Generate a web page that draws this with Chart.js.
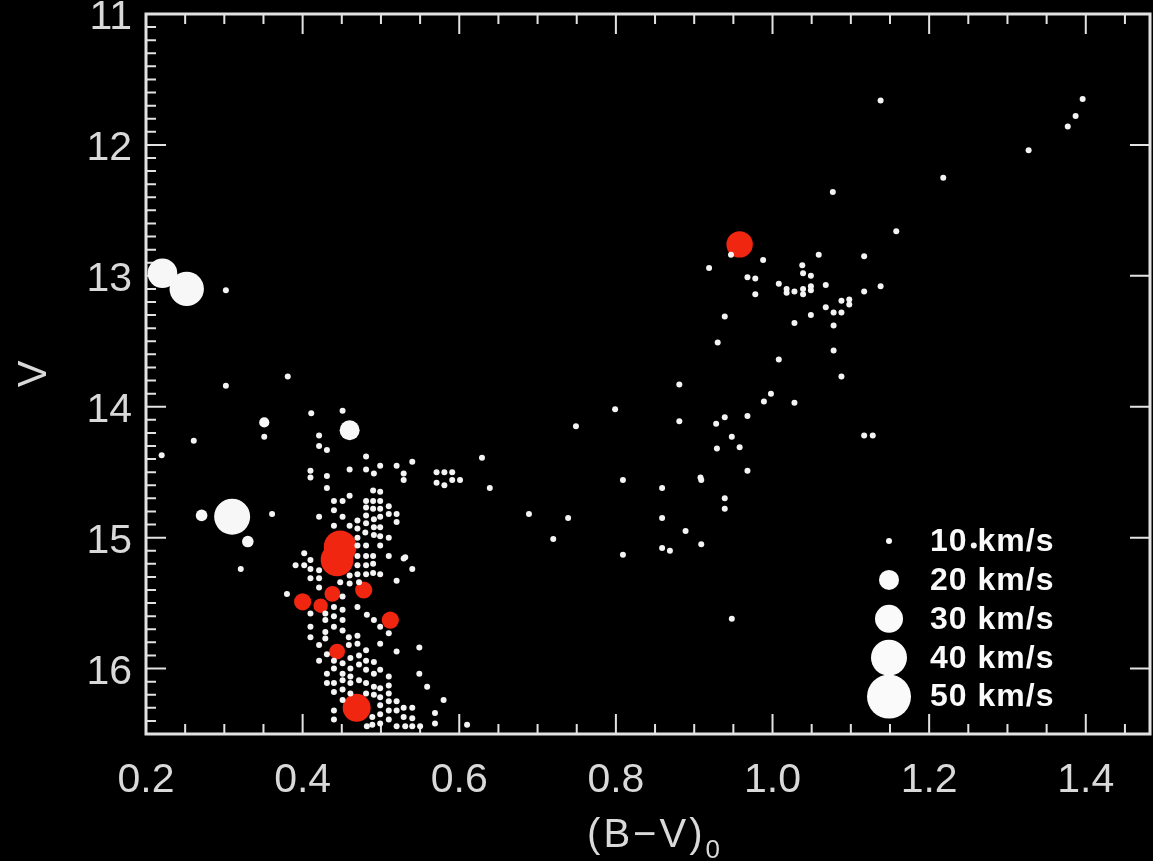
<!DOCTYPE html>
<html>
<head>
<meta charset="utf-8">
<script src="https://cdn.jsdelivr.net/npm/chart.js@4.4.0/dist/chart.umd.min.js"></script>
<style>
  html, body { margin: 0; padding: 0; background: #000; }
  canvas { display: block; }
</style>
</head>
<body>
<canvas id="cmd" width="1153" height="861" style="width:1153px;height:861px"></canvas>
<script>
// axis tick labels
const xTickVals = [0.2, 0.4, 0.6, 0.8, 1.0, 1.2, 1.4]
const yTickVals = [11, 12, 13, 14, 15, 16]
const legendVel = [10, 20, 30, 40, 50]

// slow stars, drawn as dots
// giant branch
const giantBV = [1.138, 1.396, 1.387, 1.377, 1.327, 1.218, 1.077, 1.158, 0.947, 0.988,
  0.919, 1.059, 1.117, 1.038, 1.039, 1.049, 0.968, 0.978, 1.008, 1.018,
  1.018, 1.028, 1.039, 1.039, 1.049, 1.049, 1.068, 1.117, 1.138, 0.978,
  1.088, 1.098, 1.098, 1.068, 1.078, 1.088, 1.049, 0.939, 1.028, 1.078,
  0.930, 1.008, 1.078, 1.088, 0.998, 0.989, 1.028, 0.881, 0.968, 0.939,
  0.928, 0.881, 0.948, 0.958, 0.929, 1.117, 1.128, 0.968, 0.908]
const giantV = [11.66, 11.65, 11.78, 11.86, 12.04, 12.25, 12.36, 12.66, 12.84, 12.88,
  12.94, 12.84, 12.85, 12.92, 12.98, 13.00, 13.01, 13.02, 13.06, 13.10,
  13.13, 13.12, 13.10, 13.14, 13.08, 13.11, 13.07, 13.12, 13.08, 13.14,
  13.19, 13.18, 13.22, 13.24, 13.28, 13.28, 13.30, 13.31, 13.36, 13.38,
  13.51, 13.64, 13.57, 13.77, 13.90, 13.96, 13.97, 13.83, 14.07, 14.08,
  14.13, 14.11, 14.23, 14.31, 14.32, 14.22, 14.22, 14.49, 14.54]
// subgiants / field between turnoff and giants
const gapBV = [0.799, 0.749, 0.629, 0.639, 0.809, 0.859, 0.909, 0.939, 0.939, 0.689,
  0.739, 0.859, 0.720, 0.889, 0.859, 0.869, 0.909, 0.809, 0.948, 1.257]
const gapV = [14.02, 14.15, 14.39, 14.62, 14.56, 14.62, 14.56, 14.70, 14.78, 14.82,
  14.85, 14.85, 15.01, 14.95, 15.08, 15.10, 15.05, 15.13, 15.62, 15.06]
// blue side
const blueBV = [0.302, 0.302, 0.381, 0.411, 0.451, 0.421, 0.351, 0.220, 0.261, 0.361, 0.321]
const blueV = [13.11, 13.84, 13.77, 14.05, 14.03, 14.22, 14.23, 14.37, 14.26, 14.82, 15.24]
// turnoff, upper part
const msUpBV = [0.421, 0.431, 0.481, 0.460, 0.481, 0.499, 0.520, 0.540, 0.491, 0.410,
  0.410, 0.431, 0.529, 0.529, 0.431, 0.460, 0.571, 0.581, 0.591, 0.571,
  0.581, 0.591, 0.601, 0.490, 0.499, 0.440, 0.451, 0.481, 0.481, 0.490,
  0.490, 0.499, 0.499, 0.499, 0.510, 0.510, 0.520, 0.520, 0.440, 0.451,
  0.421, 0.440, 0.460, 0.470, 0.470, 0.470, 0.481, 0.481, 0.491, 0.491,
  0.491, 0.499, 0.499, 0.499, 0.510, 0.480, 0.402, 0.391, 0.402, 0.410,
  0.470, 0.470, 0.470, 0.470, 0.481, 0.481, 0.481, 0.481, 0.490, 0.490,
  0.490, 0.510, 0.531, 0.540, 0.499, 0.410, 0.410, 0.380, 0.421, 0.421,
  0.421, 0.448, 0.460, 0.460, 0.472, 0.529, 0.520, 0.451]
const msUpV = [14.30, 14.33, 14.38, 14.48, 14.48, 14.45, 14.45, 14.42, 14.51, 14.49,
  14.54, 14.53, 14.51, 14.56, 14.62, 14.68, 14.50, 14.50, 14.50, 14.58,
  14.60, 14.56, 14.56, 14.64, 14.65, 14.72, 14.72, 14.72, 14.77, 14.72,
  14.78, 14.72, 14.78, 14.84, 14.76, 14.82, 14.82, 14.88, 14.79, 14.84,
  14.84, 14.91, 14.91, 14.87, 14.93, 15.00, 14.83, 14.89, 14.86, 14.92,
  14.98, 14.92, 14.99, 15.06, 15.00, 14.96, 15.12, 15.21, 15.21, 15.17,
  15.06, 15.14, 15.21, 15.28, 15.06, 15.14, 15.21, 15.28, 15.14, 15.20,
  15.27, 15.14, 15.15, 15.24, 15.28, 15.24, 15.31, 15.43, 15.25, 15.31,
  15.38, 15.34, 15.29, 15.35, 15.34, 15.16, 15.33, 15.45]
// turnoff, lower part
const msLoBV = [0.470, 0.482, 0.491, 0.499, 0.510, 0.410, 0.410, 0.429, 0.429, 0.429,
  0.429, 0.440, 0.440, 0.440, 0.451, 0.451, 0.451, 0.410, 0.421, 0.431,
  0.459, 0.459, 0.470, 0.470, 0.481, 0.499, 0.520, 0.549, 0.421, 0.440,
  0.440, 0.451, 0.451, 0.461, 0.461, 0.461, 0.472, 0.472, 0.481, 0.481,
  0.491, 0.491, 0.499, 0.510, 0.510, 0.549, 0.559, 0.580, 0.431, 0.431,
  0.440, 0.440, 0.451, 0.451, 0.461, 0.461, 0.472, 0.481, 0.481, 0.491,
  0.491, 0.499, 0.499, 0.499, 0.510, 0.510, 0.510, 0.510, 0.520, 0.520,
  0.529, 0.529, 0.540, 0.540, 0.540, 0.550, 0.569, 0.569, 0.531, 0.610,
  0.489, 0.489, 0.499, 0.499, 0.440, 0.440, 0.451, 0.482, 0.520]
const msLoV = [15.53, 15.59, 15.63, 15.68, 15.73, 15.58, 15.68, 15.58, 15.63, 15.72,
  15.77, 15.53, 15.60, 15.68, 15.55, 15.63, 15.71, 15.76, 15.82, 15.89,
  15.76, 15.82, 15.75, 15.81, 15.86, 15.81, 15.87, 15.84, 15.94, 15.94,
  16.00, 15.96, 16.04, 15.92, 16.00, 16.06, 15.90, 15.97, 15.94, 16.01,
  15.95, 16.04, 16.01, 16.06, 16.13, 16.04, 16.14, 16.24, 16.04, 16.11,
  16.11, 16.18, 16.09, 16.16, 16.11, 16.19, 16.09, 16.11, 16.19, 16.14,
  16.20, 16.15, 16.22, 16.28, 16.19, 16.25, 16.32, 16.39, 16.25, 16.32,
  16.30, 16.37, 16.30, 16.38, 16.44, 16.44, 16.34, 16.42, 16.44, 16.43,
  16.37, 16.43, 16.35, 16.42, 16.32, 16.39, 16.24, 16.44, 16.44]

// faster white stars, with velocity in km/s
const fastBV = [0.221, 0.252, 0.310, 0.460, 0.351, 0.271, 0.330]
const fastV = [12.98, 13.10, 14.84, 14.18, 14.12, 14.83, 15.03]
const fastVel = [32, 38, 40, 20, 13, 14, 14]

// red stars, with velocity in km/s
const redBV = [0.958, 0.448, 0.444, 0.400, 0.423, 0.438, 0.478, 0.512, 0.444, 0.469]
const redV = [12.76, 15.07, 15.17, 15.49, 15.52, 15.43, 15.40, 15.63, 15.87, 16.30]
const redVel = [28, 36, 36, 18, 16, 17, 18, 18, 17, 30]

const FONT = '"Liberation Sans", Arial, sans-serif'
const AXIS_COL = '#e2e2e2'
const TEXT_COL = '#d9d9d9'
const RED = 'rgb(240,38,16)'

function symRadius(v) {
  if (v <= 10) return 3
  if (v <= 20) return 3 + (v - 10) * 0.7
  return 2 + 0.4 * v
}

function toPoints(xs, ys) {
  return xs.map((x, i) => ({ x: x, y: ys[i] }))
}

const dotBV = [].concat(giantBV, gapBV, blueBV, msUpBV, msLoBV)
const dotV = [].concat(giantV, gapV, blueV, msUpV, msLoV)

// box with inward ticks on all four sides
const framePlugin = {
  id: 'frame',
  beforeDatasetsDraw(chart) {
    const { ctx, chartArea: a, scales: { x, y } } = chart
    ctx.save()
    ctx.strokeStyle = AXIS_COL
    ctx.lineWidth = 3
    ctx.strokeRect(a.left, a.top, a.right - a.left, a.bottom - a.top)
    ctx.lineWidth = 2
    ctx.beginPath()
    for (let i = 0; ; i++) {
      const v = x.min + i * 0.05
      if (v > x.max + 1e-9) break
      const px = x.getPixelForValue(v)
      const len = i % 4 === 0 ? 20 : 10
      ctx.moveTo(px, a.bottom); ctx.lineTo(px, a.bottom - len)
      ctx.moveTo(px, a.top); ctx.lineTo(px, a.top + len)
    }
    for (let i = 0; ; i++) {
      const v = y.min + i * 0.1
      if (v > y.max + 1e-9) break
      const py = y.getPixelForValue(v)
      const major = i % 10 === 0
      ctx.moveTo(a.left, py); ctx.lineTo(a.left + (major ? 20 : 10), py)
      if (major) { ctx.moveTo(a.right, py); ctx.lineTo(a.right - 20, py) }
    }
    ctx.stroke()
    ctx.restore()
  }
}

// x title with subscript, and the velocity size key
const overlayPlugin = {
  id: 'overlay',
  afterDraw(chart) {
    const { ctx, chartArea: a } = chart
    ctx.save()
    ctx.fillStyle = TEXT_COL
    ctx.textAlign = 'left'
    ctx.textBaseline = 'alphabetic'
    ctx.font = '40px ' + FONT
    ctx.letterSpacing = '3px'
    const main = '(B\u2212V)'
    const w1 = ctx.measureText(main).width
    ctx.font = '26px ' + FONT
    const w2 = ctx.measureText('0').width
    const x0 = (a.left + a.right) / 2 - (w1 + w2) / 2 + 7
    ctx.font = '40px ' + FONT
    ctx.fillText(main, x0, 847)
    ctx.font = '26px ' + FONT
    ctx.fillText('0', x0 + w1, 858)

    const lx = a.right - 261
    const tx = a.right - 220
    ctx.font = 'bold 32px ' + FONT
    ctx.letterSpacing = '1px'
    ctx.textBaseline = 'middle'
    legendVel.forEach((v, i) => {
      const cy = a.bottom - 193 + i * 38.9
      ctx.fillStyle = '#fafafa'
      ctx.beginPath()
      ctx.arc(lx, cy, symRadius(v), 0, Math.PI * 2)
      ctx.fill()
      ctx.fillText(v + ' km/s', tx, cy + 1)
    })
    ctx.restore()
  }
}

new Chart(document.getElementById('cmd'), {
  type: 'scatter',
  data: {
    datasets: [
      {
        data: toPoints(dotBV, dotV),
        pointRadius: symRadius(10),
        backgroundColor: '#f4f4f4',
        borderWidth: 0,
        clip: false
      },
      {
        data: toPoints(fastBV, fastV),
        pointRadius: c => symRadius(fastVel[c.dataIndex]),
        backgroundColor: '#f7f7f7',
        borderWidth: 0,
        clip: false
      },
      {
        data: toPoints(redBV, redV),
        pointRadius: c => symRadius(redVel[c.dataIndex]),
        backgroundColor: RED,
        borderWidth: 0,
        clip: false
      }
    ]
  },
  plugins: [framePlugin, overlayPlugin],
  options: {
    responsive: false,
    animation: false,
    devicePixelRatio: 1,
    layout: { autoPadding: false, padding: { top: 14, right: 3, left: 0, bottom: 0 } },
    plugins: {
      legend: { display: false },
      tooltip: { enabled: false }
    },
    elements: { point: { hoverRadius: 0 } },
    scales: {
      x: {
        type: 'linear',
        min: 0.2,
        max: 1.482,
        afterBuildTicks: s => { s.ticks = xTickVals.map(v => ({ value: v })) },
        afterFit: s => {
          s.height = 127
          s.paddingLeft = 0
          s.paddingRight = 0
        },
        grid: { display: false, drawTicks: false },
        border: { display: false },
        ticks: {
          color: TEXT_COL,
          font: { family: FONT, size: 41 },
          padding: 22,
          maxRotation: 0,
          autoSkip: false,
          callback: v => v.toFixed(1)
        }
      },
      y: {
        type: 'linear',
        reverse: true,
        min: 11,
        max: 16.5,
        afterBuildTicks: s => { s.ticks = yTickVals.map(v => ({ value: v })) },
        afterFit: s => {
          s.width = 146
          s.paddingTop = 0
          s.paddingBottom = 0
        },
        grid: { display: false, drawTicks: false },
        border: { display: false },
        title: {
          display: true,
          text: 'V',
          color: TEXT_COL,
          font: { family: FONT, size: 40 },
          padding: { top: 11, bottom: 0 }
        },
        ticks: {
          color: TEXT_COL,
          font: { family: FONT, size: 41 },
          padding: 14,
          labelOffset: 4,
          autoSkip: false,
          callback: v => String(v)
        }
      }
    }
  }
})
</script>
</body>
</html>
